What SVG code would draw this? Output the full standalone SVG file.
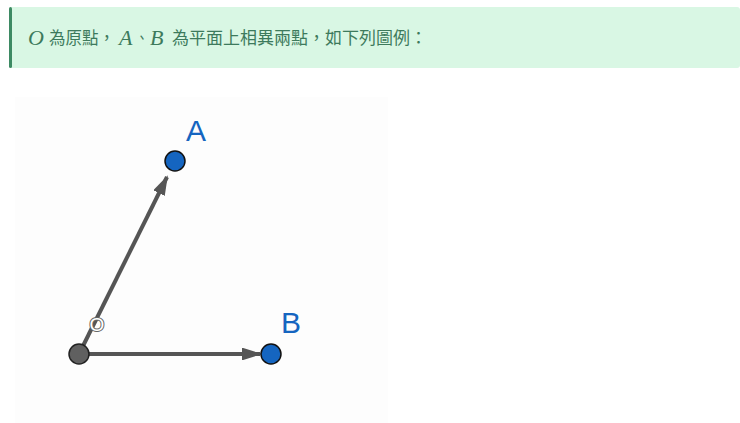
<svg xmlns="http://www.w3.org/2000/svg" width="740" height="423" viewBox="0 0 740 423">
<style>
.t{font-family:"Noto Sans CJK TC","Noto Sans CJK SC",sans-serif;font-size:17px;fill:#3d7a5c}
.m{font-family:"Liberation Serif",serif;font-style:italic;font-size:22px;fill:#3d7a5c}
.v{stroke:#555;stroke-width:4;fill:none}
.pt{fill:#1565c0;stroke:#111;stroke-width:1.5}
.lb{font-family:"Liberation Sans",sans-serif;font-size:30px;fill:#1565c0}
</style>
<defs><marker id="ah" markerWidth="5" markerHeight="3.2" refX="4.5" refY="1.6" orient="auto" markerUnits="strokeWidth"><path d="M0,0L5,1.6L0,3.2Z" fill="#555"/></marker></defs>
<rect width="740" height="423" fill="#fff"/>
<g id="banner">
<rect x="9" y="7" width="731" height="61" rx="3" fill="#d9f7e4"/>
<rect x="9" y="7" width="3" height="61" rx="1.5" fill="#3d8a63"/>
<text x="28" y="45" class="m">O</text>
<text x="49" y="44" class="t" textLength="66" lengthAdjust="spacingAndGlyphs">為原點，</text>
<text x="119" y="45" class="m">A</text>
<text x="136" y="44" class="t" textLength="12" lengthAdjust="spacingAndGlyphs">、</text>
<text x="150" y="45" class="m">B</text>
<text x="172" y="44" class="t" textLength="255" lengthAdjust="spacingAndGlyphs">為平面上相異兩點，如下列圖例：</text>
</g>
<rect x="15" y="97" width="373" height="326" fill="#fdfdfd"/>
<g id="connectors">
<line class="v" x1="79" y1="354" x2="167" y2="177" marker-end="url(#ah)"/>
<line class="v" x1="79" y1="354" x2="260" y2="354" marker-end="url(#ah)"/>
</g>
<g id="O"><circle cx="79" cy="354" r="10" fill="#606060" stroke="#222" stroke-width="1.5"/>
<text x="97" y="331" text-anchor="middle" font-family="Liberation Sans,sans-serif" font-size="19" fill="#fff" stroke="#666" stroke-width="2" paint-order="stroke">O</text></g>
<g id="A"><circle class="pt" cx="175" cy="161" r="10"/><text class="lb" x="196" y="141" text-anchor="middle">A</text></g>
<g id="B"><circle class="pt" cx="271" cy="354" r="10"/><text class="lb" x="291" y="333" text-anchor="middle">B</text></g>
</svg>
